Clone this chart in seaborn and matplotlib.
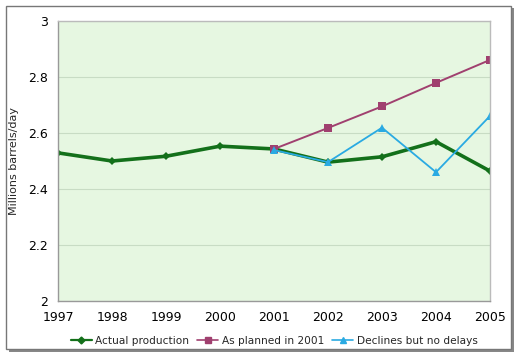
import matplotlib
matplotlib.use("Agg")
import matplotlib.pyplot as plt
import seaborn as sns
import pandas as pd
from matplotlib.patches import Rectangle
from matplotlib.lines import Line2D

years_actual = [1997, 1998, 1999, 2000, 2001, 2002, 2003, 2004, 2005]
actual = [2.529, 2.500, 2.517, 2.553, 2.543, 2.496, 2.515, 2.569, 2.464]
years_proj = [2001, 2002, 2003, 2004, 2005]
planned = [2.543, 2.618, 2.695, 2.779, 2.861]
declines = [2.539, 2.496, 2.619, 2.460, 2.661]
series_names = ["Actual production", "As planned in 2001", "Declines but no delays"]
y_ticks = [2, 2.2, 2.4, 2.6, 2.8, 3]
y_tick_labels = ["2", "2.2", "2.4", "2.6", "2.8", "3"]

df = pd.concat([
    pd.DataFrame({"year": years_actual, "value": actual, "series": series_names[0]}),
    pd.DataFrame({"year": years_proj, "value": planned, "series": series_names[1]}),
    pd.DataFrame({"year": years_proj, "value": declines, "series": series_names[2]}),
])

sns.set_theme(style="white")
plt.rcParams['font.family'] = ['DejaVu Sans']

fig = plt.figure(figsize=(5.19, 3.57), dpi=100)
ax = fig.add_axes([58/519, 1 - 301/357, (490-58)/519, (301-21)/357])

palette = {series_names[0]: "#13701a", series_names[1]: "#a0406f", series_names[2]: "#2aaae2"}
markers = {series_names[0]: "D", series_names[1]: "s", series_names[2]: "^"}
sns.lineplot(data=df, x="year", y="value", hue="series", style="series",
             palette=palette, markers=markers, dashes=False, ax=ax,
             markersize=5, markeredgewidth=0, legend=False)
lws = [2.6, 1.4, 1.3]
for line, lw in zip(ax.get_lines(), lws):
    line.set_linewidth(lw)
ms = [4.5, 5.5, 6]
for line, m in zip(ax.get_lines(), ms):
    line.set_markersize(m)

ax.set_facecolor("#e6f7e1")
ax.set_xlim(1997, 2005)
ax.set_ylim(2, 3)
ax.set_yticks(y_ticks)
ax.set_yticklabels(y_tick_labels)
ax.set_xticks(years_actual)
ax.set_xticklabels([str(y) for y in years_actual])
ax.grid(axis="y", color="#c8dcc4", linewidth=0.8)
ax.set_axisbelow(True)
for s in ["left", "bottom"]:
    ax.spines[s].set_color("#999999")
    ax.spines[s].set_linewidth(1.0)
for s in ["top", "right"]:
    ax.spines[s].set_color("#bbbbbb")
    ax.spines[s].set_linewidth(1.0)
ax.tick_params(axis="both", which="both", direction="out", length=3, width=0.8,
               color="#999999", labelsize=9, labelcolor="#000000")
ax.tick_params(axis="x", pad=4)
ax.tick_params(axis="y", pad=4)
ax.set_xlabel("")
ax.set_ylabel("Millions barrels/day", fontsize=8, labelpad=7)

handles = [Line2D([], [], color=palette[n], marker=markers[n], markersize=m, lw=lw)
           for n, m, lw in zip(series_names, [3.5, 4, 4.5], [1.6, 1.2, 1.2])]
fig.legend(handles, series_names, loc="center", bbox_to_anchor=(274/519, 1 - 341/357),
           ncol=3, frameon=False, fontsize=7.6, handlelength=2.0, handletextpad=0.3,
           columnspacing=0.8)

# outer border with shadow
fig.patches.append(Rectangle((9/519, 1 - 352/357), 505/519, 344/357, transform=fig.transFigure,
                             facecolor="#888888", edgecolor="none", zorder=-2))
fig.patches.append(Rectangle((6/519, 1 - 349/357), 505/519, 343/357, transform=fig.transFigure,
                             facecolor="white", edgecolor="#777777", linewidth=1.0, zorder=-1))

fig.savefig("out.png", dpi=100)
